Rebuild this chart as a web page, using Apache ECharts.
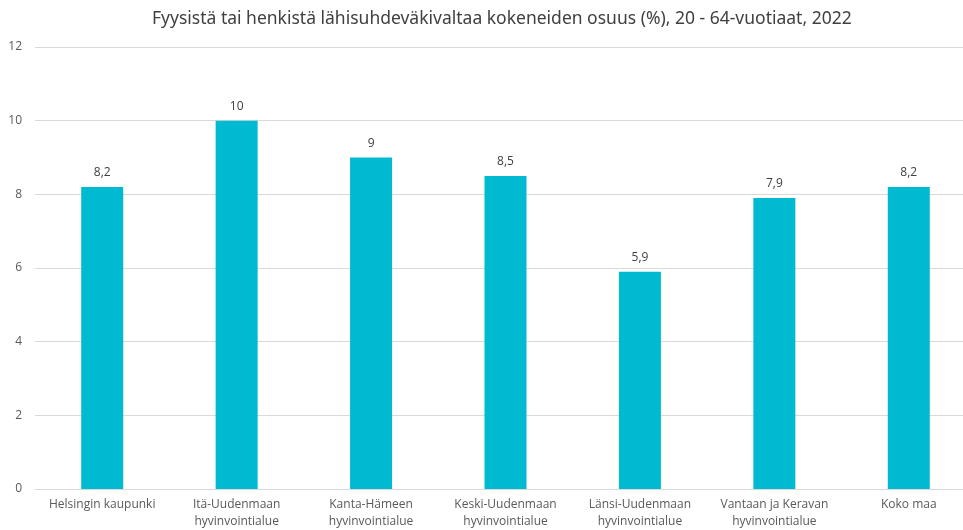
<!DOCTYPE html>
<html>
<head>
<meta charset="utf-8">
<script src="https://cdn.jsdelivr.net/npm/echarts@6/dist/echarts.min.js"></script>
<style>
  html, body { margin: 0; padding: 0; background: #fff; overflow: hidden; }
  #chart { width: 976px; height: 530px; }
</style>
</head>
<body>
<div id="chart"></div>
<script>
const categories = [
  "Helsingin kaupunki",
  "Itä-Uudenmaan\nhyvinvointialue",
  "Kanta-Hämeen\nhyvinvointialue",
  "Keski-Uudenmaan\nhyvinvointialue",
  "Länsi-Uudenmaan\nhyvinvointialue",
  "Vantaan ja Keravan\nhyvinvointialue",
  "Koko maa"
];
const values = [8.2, 10, 9, 8.5, 5.9, 7.9, 8.2];
const yTicks = [0, 2, 4, 6, 8, 10, 12];

const fmt = (v) => String(v).replace(".", ",");

let myChart = echarts.init(document.getElementById("chart"));

var options = {
  animation: false,
  textStyle: { fontFamily: "Open Sans" },
  title: {
    text: "Fyysistä tai henkistä lähisuhdeväkivaltaa kokeneiden osuus (%), 20 - 64-vuotiaat, 2022",
    left: 147,
    top: 5,
    textStyle: { fontSize: 17.5, fontWeight: "normal", color: "#404040", fontFamily: "Noto Sans" }
  },
  grid: { left: 35, right: 0, top: 47, bottom: 31, containLabel: false },
  xAxis: {
    type: "category",
    data: categories,
    axisLine: { lineStyle: { color: "#d9d9d9" } },
    axisTick: { show: false },
    axisLabel: { color: "#595959", fontSize: 12, margin: 7, lineHeight: 17, interval: 0 }
  },
  yAxis: {
    type: "value",
    min: yTicks[0],
    max: yTicks[yTicks.length - 1],
    interval: 2,
    axisLine: { show: false },
    axisTick: { show: false },
    splitLine: { lineStyle: { color: "#d9d9d9" } },
    axisLabel: { color: "#595959", fontSize: 12, margin: 13 }
  },
  series: [
    {
      type: "bar",
      data: values,
      barWidth: 42,
      itemStyle: { color: "#00bad2" },
      label: {
        show: true,
        position: "top",
        distance: 8,
        color: "#404040",
        fontSize: 12,
        formatter: (p) => fmt(p.value)
      }
    }
  ]
};
myChart.setOption(options);
</script>
</body>
</html>
